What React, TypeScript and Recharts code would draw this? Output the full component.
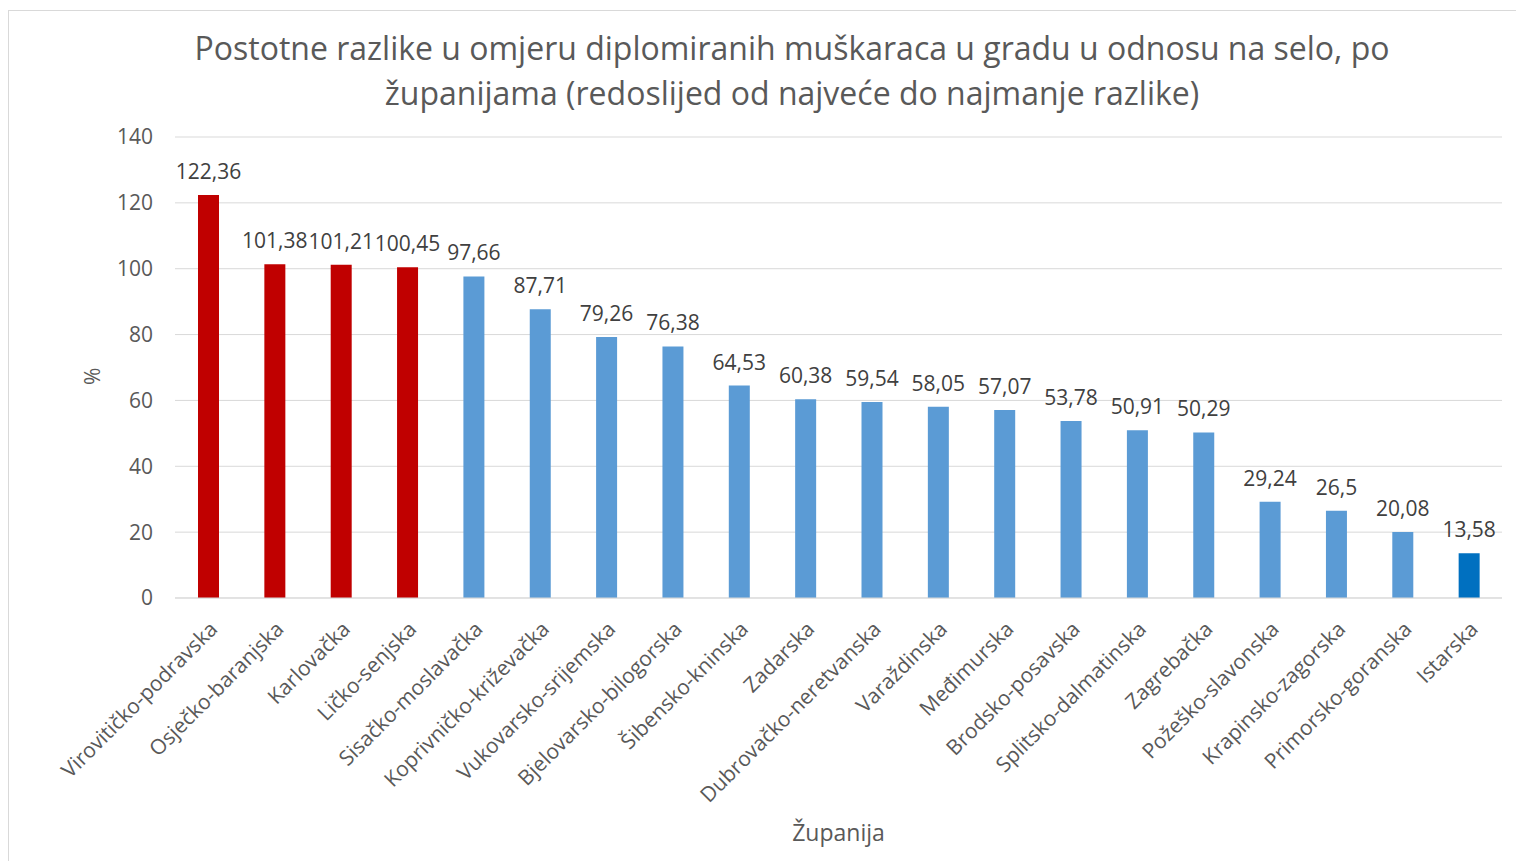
import {
  Bar,
  BarChart,
  CartesianGrid,
  Cell,
  LabelList,
  XAxis,
  YAxis,
} from "recharts";

const counties = [
  "Virovitičko-podravska",
  "Osječko-baranjska",
  "Karlovačka",
  "Ličko-senjska",
  "Sisačko-moslavačka",
  "Koprivničko-križevačka",
  "Vukovarsko-srijemska",
  "Bjelovarsko-bilogorska",
  "Šibensko-kninska",
  "Zadarska",
  "Dubrovačko-neretvanska",
  "Varaždinska",
  "Međimurska",
  "Brodsko-posavska",
  "Splitsko-dalmatinska",
  "Zagrebačka",
  "Požeško-slavonska",
  "Krapinsko-zagorska",
  "Primorsko-goranska",
  "Istarska",
];

const differences = [
  122.36, 101.38, 101.21, 100.45, 97.66, 87.71, 79.26, 76.38, 64.53, 60.38,
  59.54, 58.05, 57.07, 53.78, 50.91, 50.29, 29.24, 26.5, 20.08, 13.58,
];

const yTicks = [0, 20, 40, 60, 80, 100, 120, 140];

const data = counties.map((name, i) => ({ name, value: differences[i] }));

const FONT = "'Open Sans', sans-serif";

function barColor(i: number): string {
  if (i < 4) return "#c00000";
  if (i === counties.length - 1) return "#0070c0";
  return "#5b9bd5";
}

export default function App() {
  return (
    <div
      style={{
        position: "relative",
        width: 1515,
        height: 850,
        marginTop: 2,
        borderTop: "1px solid #d9d9d9",
        borderLeft: "1px solid #d9d9d9",
        fontFamily: FONT,
        background: "#fff",
      }}
    >
      <div
        style={{
          position: "absolute",
          left: 0,
          top: 14,
          width: 1566,
          textAlign: "center",
          fontSize: 32,
          lineHeight: "45px",
          color: "#595959",
        }}
      >
        Postotne razlike u omjeru diplomiranih muškaraca u gradu u odnosu na selo, po
        <br />
        županijama (redoslijed od najveće do najmanje razlike)
      </div>
      <BarChart
        width={1515}
        height={850}
        data={data}
        margin={{ top: 126, right: 22, left: 96, bottom: 20 }}
      >
        <CartesianGrid stroke="#d9d9d9" vertical={false} />
        <XAxis
          dataKey="name"
          interval={0}
          angle={-45}
          textAnchor="end"
          height={243}
          tickLine={false}
          tickSize={6}
          tickMargin={16}
          axisLine={{ stroke: "#d9d9d9" }}
          tick={{ fontSize: 21, fill: "#595959", fontFamily: FONT }}
          label={{
            value: "Županija",
            position: "insideBottom",
            offset: 0,
            fontSize: 23,
            fill: "#595959",
            fontFamily: FONT,
          }}
        />
        <YAxis
          width={70}
          domain={[0, 140]}
          ticks={yTicks}
          tickLine={false}
          axisLine={false}
          tickSize={6}
          tickMargin={16}
          tick={{ fontSize: 21, fill: "#595959", fontFamily: FONT }}
          label={{
            value: "%",
            angle: -90,
            position: "left",
            offset: 12,
            fontSize: 21,
            fill: "#595959",
            fontFamily: FONT,
          }}
        />
        <Bar dataKey="value" barSize={21} isAnimationActive={false}>
          {data.map((d, i) => (
            <Cell key={d.name} fill={barColor(i)} />
          ))}
          <LabelList
            dataKey="value"
            position="top"
            offset={16}
            fontSize={21}
            fill="#404040"
            fontFamily={FONT}
            formatter={(v: any) => String(v).replace(".", ",")}
          />
        </Bar>
      </BarChart>
    </div>
  );
}
